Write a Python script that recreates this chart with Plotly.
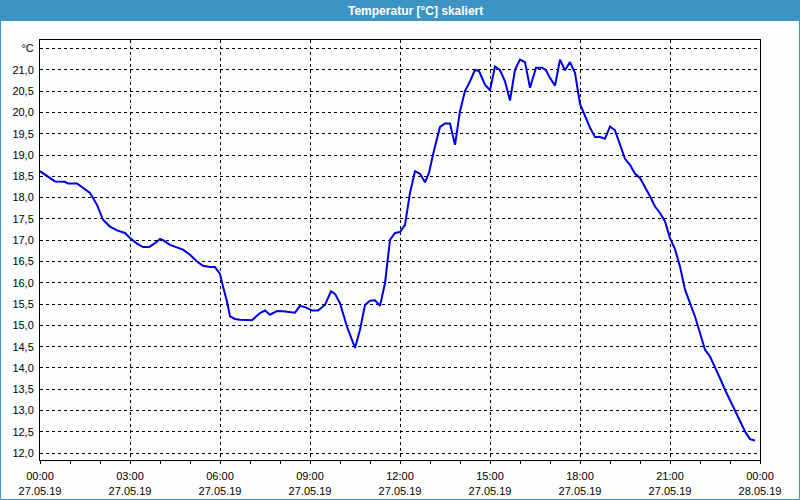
import plotly.graph_objects as go
import pandas as pd

# --- data -------------------------------------------------------------
day = "2019-05-27"
times = [
    "00:00", "00:30", "00:50", "00:56", "01:14", "01:26", "01:40", "01:54", "02:06", "02:20",
    "02:34", "02:50", "03:00", "03:14", "03:26", "03:38", "03:50", "04:00", "04:06", "04:20",
    "04:34", "04:46", "05:00", "05:14", "05:26", "05:40", "05:50", "06:00", "06:06", "06:14",
    "06:20", "06:30", "06:40", "07:04", "07:20", "07:30", "07:40", "07:54", "08:06", "08:30",
    "08:40", "08:50", "09:04", "09:16", "09:30", "09:42", "09:50", "10:00", "10:14", "10:30",
    "10:40", "10:50", "11:00", "11:10", "11:20", "11:30", "11:40", "11:50", "12:00", "12:10",
    "12:20", "12:30", "12:40", "12:50", "12:58", "13:06", "13:20", "13:30", "13:40", "13:50",
    "14:00", "14:10", "14:20", "14:30", "14:38", "14:50", "15:00", "15:10", "15:20", "15:30",
    "15:40", "15:50", "16:00", "16:10", "16:20", "16:32", "16:44", "16:52", "17:00", "17:10",
    "17:20", "17:30", "17:40", "17:50", "18:00", "18:10", "18:20", "18:30", "18:40", "18:50",
    "19:00", "19:10", "19:20", "19:30", "19:40", "19:50", "20:00", "20:10", "20:20", "20:30",
    "20:40", "20:50", "21:00", "21:10", "21:20", "21:30", "21:40", "21:50", "22:00", "22:10",
    "22:20", "22:30", "22:40", "22:50", "23:00", "23:10", "23:20", "23:30", "23:40", "23:50",
]
temps = [
    18.62, 18.38, 18.37, 18.33, 18.33, 18.23, 18.11, 17.83, 17.48, 17.32,
    17.23, 17.17, 17.05, 16.92, 16.84, 16.84, 16.93, 17.03, 17.00, 16.89,
    16.83, 16.78, 16.66, 16.50, 16.40, 16.37, 16.37, 16.21, 15.91, 15.56,
    15.21, 15.15, 15.13, 15.12, 15.29, 15.35, 15.25, 15.34, 15.33, 15.30,
    15.46, 15.43, 15.35, 15.35, 15.48, 15.80, 15.74, 15.52, 14.97, 14.47,
    14.90, 15.48, 15.58, 15.59, 15.46, 15.99, 17.01, 17.17, 17.19, 17.36,
    18.11, 18.62, 18.56, 18.36, 18.58, 19.01, 19.66, 19.74, 19.74, 19.24,
    20.03, 20.50, 20.73, 21.00, 20.97, 20.65, 20.52, 21.08, 20.99, 20.73,
    20.28, 21.00, 21.24, 21.18, 20.58, 21.05, 21.05, 20.99, 20.81, 20.63,
    21.24, 20.99, 21.18, 20.93, 20.20, 19.93, 19.64, 19.42, 19.42, 19.38,
    19.67, 19.58, 19.22, 18.91, 18.77, 18.56, 18.46, 18.26, 18.03, 17.79,
    17.64, 17.44, 17.05, 16.79, 16.38, 15.84, 15.52, 15.21, 14.82, 14.43,
    14.27, 14.03, 13.76, 13.49, 13.25, 13.02, 12.78, 12.51, 12.33, 12.30,
]

x_tick_vals = ["2019-05-27 00:00", "2019-05-27 03:00", "2019-05-27 06:00", "2019-05-27 09:00",
               "2019-05-27 12:00", "2019-05-27 15:00", "2019-05-27 18:00", "2019-05-27 21:00",
               "2019-05-28 00:00"]
x_tick_text = ["00:00<br>27.05.19", "03:00<br>27.05.19", "06:00<br>27.05.19", "09:00<br>27.05.19",
               "12:00<br>27.05.19", "15:00<br>27.05.19", "18:00<br>27.05.19", "21:00<br>27.05.19",
               "00:00<br>28.05.19"]
y_tick_vals = [12.0, 12.5, 13.0, 13.5, 14.0, 14.5, 15.0, 15.5, 16.0, 16.5, 17.0, 17.5,
               18.0, 18.5, 19.0, 19.5, 20.0, 20.5, 21.0, 21.5]
y_tick_text = ["12,0", "12,5", "13,0", "13,5", "14,0", "14,5", "15,0", "15,5", "16,0", "16,5",
               "17,0", "17,5", "18,0", "18,5", "19,0", "19,5", "20,0", "20,5", "21,0", "°C"]
title_text = "Temperatur [°C] skaliert"

# --- figure -----------------------------------------------------------
x = pd.to_datetime([f"{day} {t}" for t in times])

fig = go.Figure()
fig.add_trace(go.Scatter(x=x, y=temps, mode="lines",
                         line=dict(color="#0000e0", width=2), hoverinfo="skip"))

W, H = 800, 500
L, R, T, B = 40, 40, 40, 40
pw, ph = W - L - R, H - T - B

def px_x(p):
    return (p - L) / pw

def px_y(p):
    return (H - B - p) / ph

font = dict(family="Liberation Sans, Arial, sans-serif", size=11, color="#000000")
bar_color = "#3c93c6"

fig.update_layout(
    width=W, height=H,
    autosize=False,
    margin=dict(l=L, r=R, t=T, b=B, pad=0, autoexpand=False),
    paper_bgcolor="#fcfefd", plot_bgcolor="#fcfefd",
    showlegend=False,
    font=font,
    xaxis=dict(
        type="date", automargin=False,
        range=["2019-05-27 00:00", "2019-05-28 00:00"],
        tickmode="array", tickvals=x_tick_vals, ticktext=x_tick_text,
        ticks="outside", ticklen=3, tickcolor="#000000", tickwidth=1,
        ticklabelstandoff=3,
        showgrid=True, gridcolor="#000000", gridwidth=1, griddash="3px,3px",
        showline=True, linecolor="#000000", linewidth=1, mirror=True,
        zeroline=False, tickangle=0,
        minor=dict(dtick=3600000, ticks="outside", ticklen=3, tickcolor="#000000",
                   showgrid=False),
    ),
    yaxis=dict(
        automargin=False,
        range=[11.84, 21.70],
        tickmode="array", tickvals=y_tick_vals, ticktext=y_tick_text,
        ticks="", showgrid=True, gridcolor="#000000", gridwidth=1, griddash="3px,3px",
        showline=True, linecolor="#000000", linewidth=1, mirror=True,
        zeroline=False, ticklabelstandoff=3,
    ),
    shapes=[
        # title bar
        dict(type="rect", xref="paper", yref="paper", layer="above",
             x0=px_x(0), x1=px_x(W), y0=px_y(21), y1=px_y(0),
             fillcolor=bar_color, line=dict(width=0)),
        # window border
        dict(type="rect", xref="paper", yref="paper", layer="above",
             x0=px_x(0.5), x1=px_x(W - 0.5), y0=px_y(H - 0.5), y1=px_y(0.5),
             fillcolor="rgba(0,0,0,0)", line=dict(color=bar_color, width=1)),
    ],
    annotations=[
        dict(text=f"<b>{title_text}</b>", xref="paper", yref="paper",
             x=px_x(415.5), y=px_y(10.5), xanchor="center", yanchor="middle", showarrow=False,
             font=dict(family="Liberation Sans, Arial, sans-serif", size=12, color="#ffffff")),
    ],
)

fig.write_html("out.html")
